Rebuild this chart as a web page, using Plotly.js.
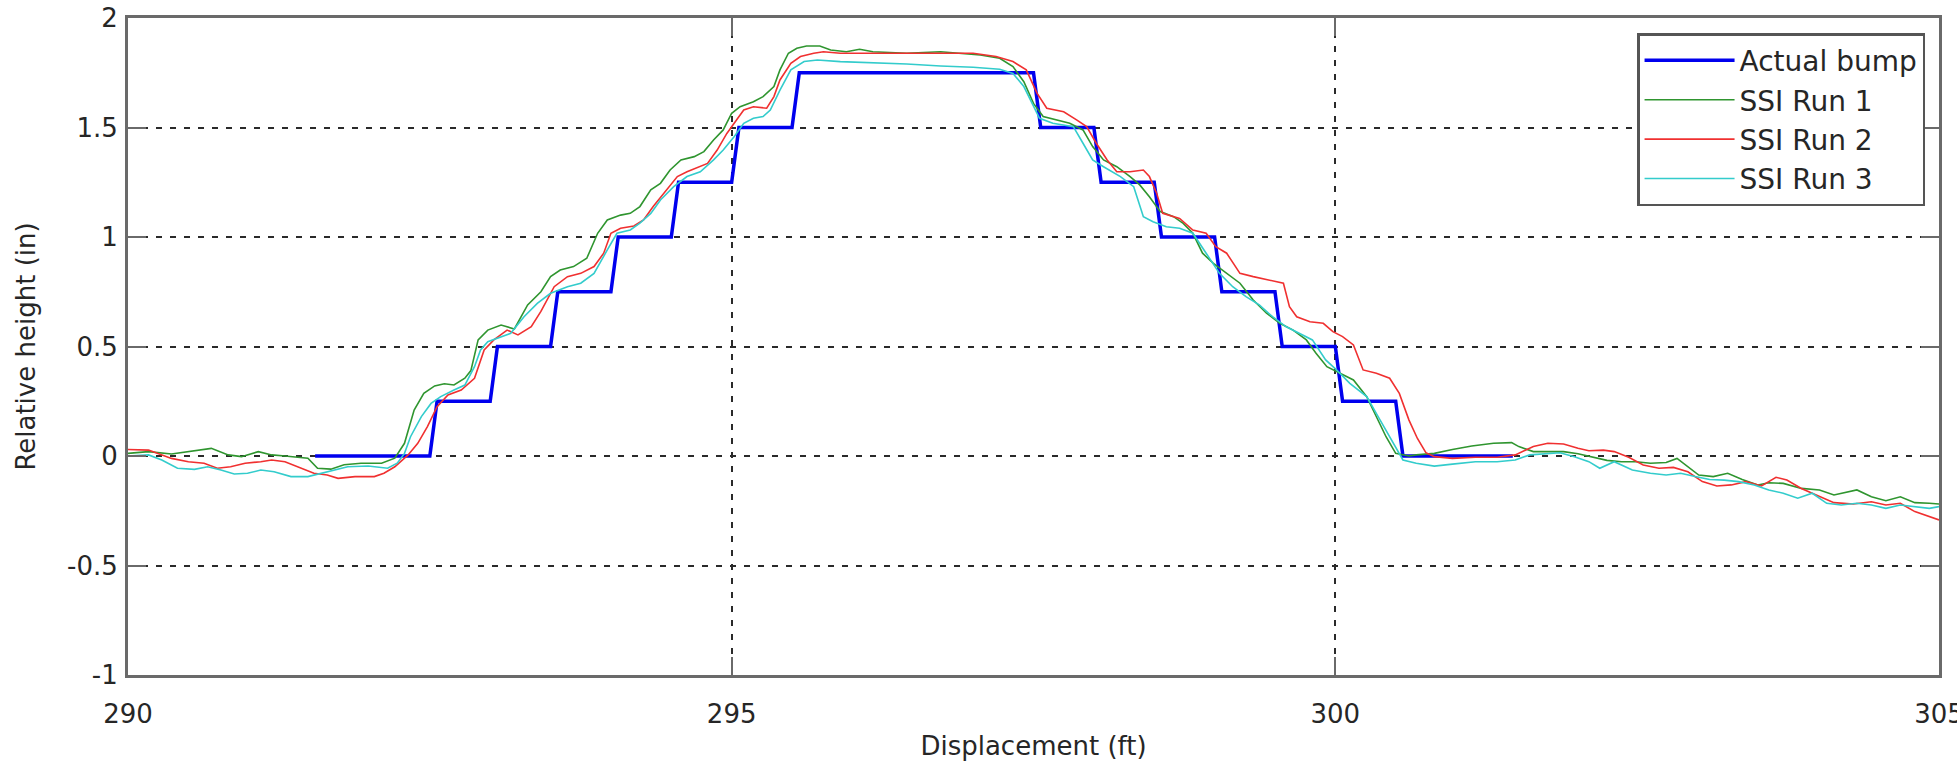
<!DOCTYPE html>
<html>
<head>
<meta charset="utf-8">
<script src="https://cdn.plot.ly/plotly-3.0.1.min.js"></script>
<style>html,body{margin:0;padding:0;background:#fff;}#chart{width:1957px;height:761px;}</style>
</head>
<body>
<div id="chart"></div>
<script>
// ---- Data ----
const actualX = [291.55, 292.5, 292.56, 293.0, 293.06, 293.5, 293.56, 294.0, 294.06, 294.5, 294.56, 295.0, 295.06, 295.5, 295.56, 297.5, 297.56, 298.0, 298.06, 298.5, 298.56, 299.0, 299.06, 299.5, 299.56, 300.0, 300.06, 300.5, 300.56, 301.47];
const actualY = [0, 0, 0.25, 0.25, 0.5, 0.5, 0.75, 0.75, 1, 1, 1.25, 1.25, 1.5, 1.5, 1.75, 1.75, 1.5, 1.5, 1.25, 1.25, 1, 1, 0.75, 0.75, 0.5, 0.5, 0.25, 0.25, 0, 0];

const run1X = [290.00, 290.17, 290.36, 290.50, 290.69, 290.83, 290.94, 291.08, 291.19, 291.30, 291.49, 291.57, 291.68, 291.79, 291.93, 292.10, 292.21, 292.29, 292.37, 292.45, 292.54, 292.62, 292.70, 292.79, 292.84, 292.90, 292.98, 293.09, 293.20, 293.31, 293.42, 293.50, 293.58, 293.69, 293.80, 293.89, 293.97, 294.08, 294.16, 294.24, 294.33, 294.41, 294.49, 294.58, 294.69, 294.77, 294.85, 294.93, 295.00, 295.07, 295.18, 295.26, 295.35, 295.40, 295.47, 295.54, 295.62, 295.73, 295.82, 295.95, 296.06, 296.17, 296.45, 296.73, 296.89, 297.06, 297.22, 297.33, 297.42, 297.50, 297.58, 297.69, 297.80, 297.91, 297.99, 298.08, 298.19, 298.30, 298.38, 298.46, 298.55, 298.66, 298.74, 298.82, 298.90, 298.99, 299.10, 299.21, 299.32, 299.43, 299.54, 299.65, 299.76, 299.84, 299.93, 300.04, 300.15, 300.26, 300.34, 300.42, 300.50, 300.61, 300.67, 300.82, 300.97, 301.13, 301.31, 301.46, 301.52, 301.64, 301.76, 301.89, 302.01, 302.13, 302.25, 302.37, 302.49, 302.61, 302.74, 302.83, 302.92, 303.01, 303.13, 303.25, 303.37, 303.50, 303.59, 303.71, 303.86, 304.01, 304.13, 304.32, 304.44, 304.56, 304.68, 304.80, 304.92, 305.00];
const run1Y = [0.012, 0.02, 0.009, 0.02, 0.035, 0.005, -0.003, 0.02, 0.005, 0.0, -0.01, -0.056, -0.06, -0.04, -0.033, -0.033, -0.01, 0.058, 0.21, 0.286, 0.32, 0.33, 0.324, 0.355, 0.39, 0.53, 0.575, 0.598, 0.58, 0.69, 0.75, 0.819, 0.849, 0.865, 0.903, 1.017, 1.078, 1.100, 1.108, 1.139, 1.215, 1.245, 1.306, 1.352, 1.367, 1.390, 1.443, 1.489, 1.565, 1.595, 1.618, 1.641, 1.687, 1.763, 1.839, 1.862, 1.872, 1.872, 1.854, 1.846, 1.857, 1.846, 1.839, 1.846, 1.839, 1.831, 1.816, 1.778, 1.709, 1.610, 1.550, 1.534, 1.519, 1.489, 1.413, 1.352, 1.321, 1.276, 1.238, 1.184, 1.116, 1.093, 1.062, 1.017, 0.926, 0.880, 0.834, 0.789, 0.712, 0.652, 0.606, 0.575, 0.530, 0.469, 0.408, 0.378, 0.347, 0.271, 0.180, 0.088, 0.012, 0.0, 0.005, 0.012, 0.030, 0.046, 0.058, 0.061, 0.043, 0.02, 0.02, 0.02, 0.01, -0.005, -0.02, -0.026, -0.026, -0.033, -0.030, -0.011, -0.049, -0.087, -0.094, -0.079, -0.107, -0.132, -0.122, -0.125, -0.148, -0.155, -0.178, -0.155, -0.186, -0.204, -0.186, -0.213, -0.216, -0.219];

const run2X = [290.00, 290.17, 290.36, 290.50, 290.63, 290.74, 290.85, 290.97, 291.10, 291.19, 291.30, 291.43, 291.54, 291.65, 291.74, 291.88, 292.04, 292.12, 292.21, 292.32, 292.40, 292.48, 292.56, 292.65, 292.76, 292.87, 292.95, 293.03, 293.14, 293.23, 293.34, 293.42, 293.53, 293.64, 293.75, 293.86, 293.94, 294.00, 294.08, 294.19, 294.27, 294.35, 294.46, 294.55, 294.63, 294.74, 294.80, 294.88, 294.96, 295.04, 295.10, 295.18, 295.29, 295.35, 295.40, 295.49, 295.57, 295.68, 295.76, 295.90, 296.18, 296.45, 296.73, 297.00, 297.19, 297.33, 297.44, 297.53, 297.61, 297.75, 297.86, 297.94, 298.02, 298.11, 298.19, 298.30, 298.41, 298.46, 298.52, 298.57, 298.71, 298.82, 298.93, 299.01, 299.10, 299.21, 299.32, 299.46, 299.57, 299.62, 299.68, 299.79, 299.90, 299.98, 300.06, 300.15, 300.23, 300.34, 300.45, 300.53, 300.61, 300.68, 300.75, 300.82, 300.97, 301.16, 301.34, 301.49, 301.64, 301.76, 301.89, 302.01, 302.10, 302.22, 302.31, 302.43, 302.55, 302.68, 302.80, 302.92, 303.04, 303.16, 303.28, 303.40, 303.53, 303.65, 303.74, 303.86, 304.01, 304.13, 304.29, 304.44, 304.56, 304.68, 304.80, 304.92, 305.00];
const run2Y = [0.030, 0.027, -0.011, -0.026, -0.033, -0.056, -0.049, -0.033, -0.026, -0.018, -0.026, -0.056, -0.079, -0.087, -0.102, -0.094, -0.094, -0.079, -0.049, 0.005, 0.058, 0.134, 0.225, 0.279, 0.301, 0.355, 0.484, 0.530, 0.575, 0.553, 0.591, 0.660, 0.773, 0.819, 0.834, 0.865, 0.926, 1.017, 1.040, 1.050, 1.078, 1.139, 1.215, 1.276, 1.298, 1.321, 1.336, 1.397, 1.473, 1.534, 1.580, 1.595, 1.588, 1.641, 1.717, 1.793, 1.824, 1.839, 1.846, 1.839, 1.839, 1.842, 1.842, 1.839, 1.824, 1.801, 1.763, 1.656, 1.588, 1.572, 1.534, 1.504, 1.428, 1.352, 1.298, 1.298, 1.306, 1.276, 1.200, 1.108, 1.085, 1.032, 1.017, 0.956, 0.926, 0.834, 0.819, 0.804, 0.789, 0.682, 0.636, 0.613, 0.606, 0.568, 0.545, 0.507, 0.393, 0.378, 0.355, 0.286, 0.164, 0.080, 0.015, -0.003, -0.011, -0.006, -0.006, 0.005, 0.043, 0.058, 0.055, 0.035, 0.024, 0.027, 0.020, -0.006, -0.041, -0.056, -0.052, -0.072, -0.117, -0.137, -0.132, -0.117, -0.137, -0.097, -0.110, -0.148, -0.186, -0.213, -0.219, -0.209, -0.224, -0.216, -0.254, -0.277, -0.292];

const run3X = [290.00, 290.17, 290.28, 290.41, 290.55, 290.66, 290.77, 290.88, 290.99, 291.10, 291.21, 291.35, 291.49, 291.60, 291.71, 291.82, 291.99, 292.15, 292.23, 292.29, 292.34, 292.43, 292.51, 292.59, 292.70, 292.79, 292.87, 292.92, 292.98, 293.06, 293.17, 293.28, 293.39, 293.50, 293.64, 293.75, 293.86, 293.97, 294.05, 294.16, 294.24, 294.33, 294.41, 294.52, 294.63, 294.74, 294.85, 294.93, 295.02, 295.10, 295.18, 295.26, 295.32, 295.40, 295.49, 295.60, 295.71, 295.90, 296.18, 296.45, 296.73, 297.00, 297.22, 297.33, 297.42, 297.50, 297.55, 297.66, 297.83, 297.91, 297.99, 298.08, 298.22, 298.33, 298.41, 298.49, 298.60, 298.71, 298.82, 298.93, 299.04, 299.15, 299.26, 299.37, 299.48, 299.59, 299.70, 299.81, 299.92, 300.01, 300.12, 300.26, 300.37, 300.48, 300.56, 300.67, 300.82, 300.97, 301.16, 301.34, 301.49, 301.61, 301.73, 301.86, 301.98, 302.10, 302.19, 302.31, 302.46, 302.61, 302.74, 302.86, 302.98, 303.10, 303.22, 303.34, 303.47, 303.59, 303.71, 303.83, 303.95, 304.07, 304.19, 304.32, 304.44, 304.56, 304.68, 304.80, 304.92, 305.00];
const run3Y = [0.0, 0.005, -0.018, -0.056, -0.061, -0.049, -0.064, -0.082, -0.079, -0.064, -0.072, -0.094, -0.094, -0.079, -0.064, -0.049, -0.046, -0.056, -0.033, 0.012, 0.088, 0.180, 0.240, 0.271, 0.301, 0.324, 0.408, 0.484, 0.522, 0.537, 0.560, 0.636, 0.697, 0.743, 0.773, 0.789, 0.834, 0.941, 1.017, 1.032, 1.063, 1.108, 1.169, 1.230, 1.276, 1.298, 1.352, 1.397, 1.458, 1.519, 1.542, 1.550, 1.580, 1.671, 1.763, 1.801, 1.808, 1.801, 1.796, 1.790, 1.781, 1.775, 1.766, 1.747, 1.687, 1.595, 1.542, 1.519, 1.504, 1.428, 1.352, 1.321, 1.276, 1.230, 1.093, 1.070, 1.047, 1.040, 1.017, 0.926, 0.834, 0.773, 0.728, 0.690, 0.636, 0.591, 0.560, 0.530, 0.439, 0.393, 0.332, 0.271, 0.165, 0.058, -0.018, -0.033, -0.046, -0.037, -0.026, -0.026, -0.018, 0.005, 0.009, 0.015, -0.003, -0.026, -0.056, -0.026, -0.064, -0.079, -0.087, -0.079, -0.094, -0.107, -0.110, -0.117, -0.132, -0.155, -0.170, -0.193, -0.170, -0.216, -0.224, -0.216, -0.224, -0.239, -0.224, -0.231, -0.239, -0.231];

const seriesNames = ['Actual bump', 'SSI Run 1', 'SSI Run 2', 'SSI Run 3'];
const xTickVals = [290, 295, 300, 305];
const xTickText = ['290', '295', '300', '305'];
const yTickVals = [-1, -0.5, 0, 0.5, 1, 1.5, 2];
const yTickText = ['-1', '-0.5', '0', '0.5', '1', '1.5', '2'];

// ---- Styling ----
const FONT = 'DejaVu Sans, Liberation Sans, Arial, sans-serif';
const TXT = '#262626';
const colors = ['#0000ee', '#2f952f', '#f03030', '#33cccc'];
const widths = [3.5, 1.6, 1.6, 1.6];

const xs = [actualX, run1X, run2X, run3X];
const ys = [actualY, run1Y, run2Y, run3Y];
const traces = xs.map((x, i) => ({
  type: 'scatter', mode: 'lines', x: x, y: ys[i], name: seriesNames[i],
  line: {color: colors[i], width: widths[i]}
}));

const axisCommon = {
  showgrid: true, gridcolor: '#2a2a2a', gridwidth: 2, griddash: '6px,8px',
  zeroline: false, showline: true, linecolor: '#6a6a6a', linewidth: 3, mirror: 'ticks',
  ticks: 'inside', ticklen: 18, tickwidth: 2, tickcolor: '#6a6a6a',
  tickfont: {family: FONT, size: 26, color: TXT}, tickmode: 'array',
  ticklabeloverflow: 'allow'
};

const layout = {
  width: 1957, height: 761,
  margin: {l: 128, r: 18, t: 18, b: 86},
  paper_bgcolor: '#ffffff', plot_bgcolor: '#ffffff',
  font: {family: FONT, size: 26, color: TXT},
  showlegend: true,
  xaxis: Object.assign({}, axisCommon, {
    range: [290, 305], tickvals: xTickVals, ticktext: xTickText,
    ticklabelstandoff: 14,
    title: {text: 'Displacement (ft)', font: {family: FONT, size: 26, color: TXT}, standoff: 10}
  }),
  yaxis: Object.assign({}, axisCommon, {
    range: [-1, 2], tickvals: yTickVals, ticktext: yTickText,
    ticklabelstandoff: 2,
    title: {text: 'Relative height (in)', font: {family: FONT, size: 26, color: TXT}, standoff: 24}
  }),
  legend: {
    x: 0.9923, y: 0.977, xanchor: 'right', yanchor: 'top',
    bgcolor: '#ffffff', bordercolor: '#555555', borderwidth: 2.5,
    font: {family: FONT, size: 28, color: TXT}, tracegroupgap: 0,
    itemwidth: 90
  }
};

Plotly.newPlot('chart', traces, layout, {displayModeBar: false, staticPlot: true});
</script>
</body>
</html>
